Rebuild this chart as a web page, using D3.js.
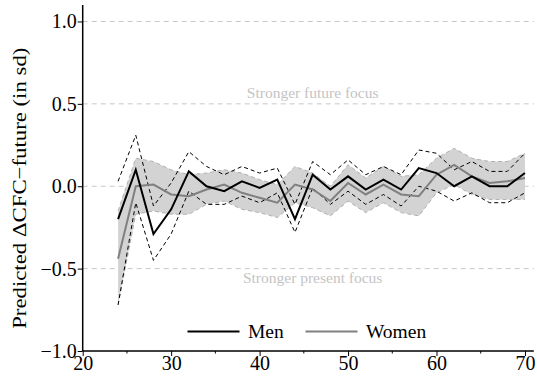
<!DOCTYPE html>
<html>
<head>
<meta charset="utf-8">
<script src="https://cdn.jsdelivr.net/npm/d3@7"></script>
<style>
  body { margin: 0; background: #fff; }
  svg { display: block; font-family: "Liberation Serif", "DejaVu Serif", serif; }
</style>
</head>
<body>
<div id="chart"></div>
<script>
// ages (every 2 years)
const ages = [24, 26, 28, 30, 32, 34, 36, 38, 40, 42, 44, 46, 48, 50, 52, 54, 56, 58, 60, 62, 64, 66, 68, 70];

// Men: estimate + CI (dashed)
const menEst   = [-0.20, 0.10, -0.29, -0.14, 0.09, 0.00, -0.03, 0.03, -0.01, 0.04, -0.20, 0.07, -0.02, 0.06, -0.02, 0.04, -0.02, 0.11, 0.08, 0.00, 0.06, 0.00, 0.00, 0.08];
const menHi    = [0.03, 0.31, -0.12, 0.02, 0.21, 0.12, 0.07, 0.12, 0.08, 0.11, -0.11, 0.15, 0.07, 0.16, 0.07, 0.12, 0.07, 0.22, 0.20, 0.10, 0.15, 0.09, 0.09, 0.20];
const menLo    = [-0.72, -0.10, -0.45, -0.29, -0.03, -0.11, -0.11, -0.06, -0.10, -0.04, -0.28, -0.01, -0.11, -0.03, -0.11, -0.05, -0.12, 0.00, -0.03, -0.09, -0.04, -0.10, -0.10, -0.04];

// Women: estimate + CI (shaded band)
const womenEst = [-0.44, 0.00, 0.01, -0.05, -0.06, -0.02, 0.01, -0.04, -0.07, -0.10, 0.01, -0.02, -0.09, 0.02, -0.05, 0.01, -0.05, -0.06, 0.07, 0.13, 0.06, 0.02, 0.03, 0.05];
const womenHi  = [-0.15, 0.17, 0.15, 0.10, 0.07, 0.08, 0.10, 0.08, 0.04, 0.01, 0.12, 0.08, 0.00, 0.13, 0.05, 0.12, 0.06, 0.07, 0.17, 0.23, 0.17, 0.15, 0.15, 0.20];
const womenLo  = [-0.72, -0.17, -0.15, -0.17, -0.17, -0.11, -0.09, -0.14, -0.16, -0.19, -0.10, -0.13, -0.18, -0.09, -0.16, -0.10, -0.16, -0.18, -0.04, 0.01, -0.05, -0.08, -0.08, -0.08];

const yTicks = [-1, -0.5, 0, 0.5, 1];
const xTicks = [20, 30, 40, 50, 60, 70];
const xMinor = [25, 35, 45, 55, 65];

const width = 537, height = 381;

const x = d3.scaleLinear().domain([20, 71]).range([82.7, 533.8]);
const y = d3.scaleLinear().domain([-1, 1.1]).range([351, 5]);

const svg = d3.select('#chart').append('svg')
    .attr('width', width)
    .attr('height', height);

// gridlines
svg.append('g').selectAll('line')
    .data(yTicks.filter(d => d > -1))
    .enter().append('line')
    .attr('x1', x(20)).attr('x2', x(71))
    .attr('y1', d => y(d)).attr('y2', d => y(d))
    .attr('stroke', '#c8c8c8')
    .attr('stroke-width', 1)
    .attr('stroke-dasharray', '5,4');

// annotations
const notes = [
    { t: 'Stronger future focus', v: 0.5, dy: -5.5 },
    { t: 'Stronger present focus', v: -0.5, dy: 14.5 }
];
svg.append('g').selectAll('text')
    .data(notes)
    .enter().append('text')
    .attr('x', x(46))
    .attr('y', d => y(d.v) + d.dy)
    .attr('text-anchor', 'middle')
    .attr('font-size', 15.5)
    .attr('fill', '#c4c4c4')
    .text(d => d.t);

const idx = d3.range(ages.length);

// women CI band
const area = d3.area()
    .x(i => x(ages[i]))
    .y0(i => y(womenLo[i]))
    .y1(i => y(womenHi[i]));
svg.append('path')
    .datum(idx)
    .attr('d', area)
    .attr('fill', '#d3d3d3')
    .attr('stroke', 'none');

// band edges (dashed grey)
[womenHi, womenLo].forEach(arr => {
    svg.append('path')
        .datum(idx)
        .attr('d', d3.line().x(i => x(ages[i])).y(i => y(arr[i])))
        .attr('fill', 'none')
        .attr('stroke', '#b0b0b0')
        .attr('stroke-width', 1)
        .attr('stroke-dasharray', '4,3');
});

// men CI dashed
[menHi, menLo].forEach(arr => {
    svg.append('path')
        .datum(idx)
        .attr('d', d3.line().x(i => x(ages[i])).y(i => y(arr[i])))
        .attr('fill', 'none')
        .attr('stroke', '#000')
        .attr('stroke-width', 1)
        .attr('stroke-dasharray', '4,3');
});

// estimate lines
svg.append('path')
    .datum(idx)
    .attr('d', d3.line().x(i => x(ages[i])).y(i => y(womenEst[i])))
    .attr('fill', 'none')
    .attr('stroke', '#808080')
    .attr('stroke-width', 2);
svg.append('path')
    .datum(idx)
    .attr('d', d3.line().x(i => x(ages[i])).y(i => y(menEst[i])))
    .attr('fill', 'none')
    .attr('stroke', '#000')
    .attr('stroke-width', 2);

// axes
const yAxis = d3.axisLeft(y).tickValues(yTicks).tickSize(5).tickPadding(1);
const gy = svg.append('g').attr('transform', `translate(${x(20)},0)`).call(yAxis);
gy.select('.domain').attr('d', `M0,${y(1.1)}V${y(-1)}`).attr('stroke-width', 1.5);
gy.selectAll('text').attr('font-size', 20).attr('font-family', '"Liberation Serif", serif')
    .text(d => d3.format('.1f')(d).replace('-', '\u2212'));

const xAxis = d3.axisBottom(x).tickValues(xTicks).tickSize(5).tickPadding(0);
const gx = svg.append('g').attr('transform', `translate(0,${y(-1)})`).call(xAxis);
gx.select('.domain').attr('d', `M${x(20)},0H${x(71)}`).attr('stroke-width', 1.5);
gx.selectAll('text').attr('font-size', 20).attr('font-family', '"Liberation Serif", serif');

gx.selectAll('.minor')
    .data(xMinor)
    .enter().append('line')
    .attr('class', 'minor')
    .attr('x1', d => x(d)).attr('x2', d => x(d))
    .attr('y1', 0).attr('y2', 2.5)
    .attr('stroke', '#000');

// y axis title (a bit stretched along its length, like the original)
svg.append('text')
    .attr('transform', `translate(25.5,${y(0) + 2}) rotate(-90) scale(1.2,1)`)
    .attr('text-anchor', 'middle')
    .attr('font-size', 19)
    .text('Predicted \u0394CFC\u2212future (in sd)');

// legend
const legend = [
    { name: 'Men', color: '#000', x0: 187.5 },
    { name: 'Women', color: '#808080', x0: 305.5 }
];
const lg = svg.append('g').selectAll('g').data(legend).enter().append('g');
lg.append('line')
    .attr('x1', d => d.x0).attr('x2', d => d.x0 + 52)
    .attr('y1', 331.5).attr('y2', 331.5)
    .attr('stroke', d => d.color)
    .attr('stroke-width', 2);
lg.append('text')
    .attr('x', d => d.x0 + 60.5)
    .attr('y', 337.5)
    .attr('font-size', 19.5)
    .text(d => d.name);
</script>
</body>
</html>
